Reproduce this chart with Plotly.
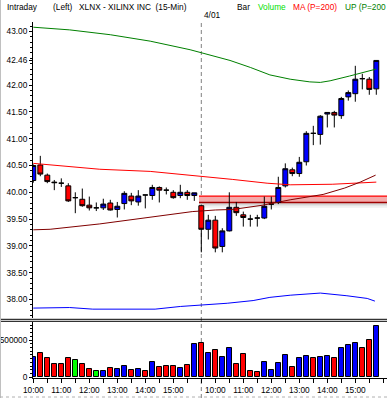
import plotly.graph_objects as go

# ---------------- data ----------------
TIMES = ["10:00", "10:15", "10:30", "10:45", "11:00", "11:15", "11:30", "11:45",
         "12:00", "12:15", "12:30", "12:45", "13:00", "13:15", "13:30", "13:45",
         "14:00", "14:15", "14:30", "14:45", "15:00", "15:15", "15:30", "15:45",
         "09:30", "09:45", "10:00", "10:15", "10:30", "10:45", "11:00", "11:15",
         "11:30", "11:45", "12:00", "12:15", "12:30", "12:45", "13:00", "13:15",
         "13:30", "13:45", "14:00", "14:15", "14:30", "14:45", "15:00", "15:15",
         "15:30", "15:45"]
SESSION_START = 24          # first bar of 4/01
SESSION_LABEL = "4/01"

OPEN = [40.22, 40.51, 40.32, 40.19, 40.17, 40.12, 39.90, 39.87, 39.76, 39.71,
        39.71, 39.80, 39.68, 39.79, 39.93, 39.82, 39.95, 39.94, 40.09, 40.04,
        40.00, 39.94, 40.00, 39.94, 39.75, 39.31, 39.48, 38.99, 39.28, 39.72,
        39.58, 39.50, 39.52, 39.52, 39.78, 39.81, 40.12, 40.42, 40.35, 40.57,
        41.10, 41.08, 41.46, 41.49, 41.43, 41.78, 41.84, 42.12, 42.11, 41.93]
HIGH = [40.52, 40.68, 40.35, 40.23, 40.26, 40.17, 40.00, 40.07, 39.92, 39.81,
        39.88, 39.86, 39.82, 40.02, 39.99, 40.04, 39.95, 40.14, 40.11, 40.09,
        40.04, 40.14, 40.04, 39.99, 39.77, 39.58, 39.56, 39.33, 40.00, 39.82,
        39.64, 39.58, 39.58, 39.92, 39.92, 40.29, 40.54, 40.46, 40.66, 41.14,
        41.24, 41.44, 41.49, 41.52, 41.78, 41.90, 42.36, 42.21, 42.15, 42.46]
LOW = [40.18, 40.30, 40.17, 40.04, 40.10, 39.82, 39.61, 39.73, 39.66, 39.65,
       39.67, 39.66, 39.53, 39.68, 39.76, 39.75, 39.70, 39.86, 39.81, 39.96,
       39.88, 39.89, 39.86, 39.84, 38.88, 39.12, 38.88, 38.88, 39.27, 39.56,
       39.36, 39.36, 39.36, 39.50, 39.68, 39.78, 40.09, 40.30, 40.29, 40.50,
       40.88, 40.89, 41.21, 41.21, 41.37, 41.71, 41.69, 41.92, 41.82, 41.82]
CLOSE = [40.50, 40.34, 40.20, 40.18, 40.17, 39.84, 39.90, 39.75, 39.71, 39.71,
         39.78, 39.67, 39.74, 39.98, 39.84, 39.93, 39.95, 40.09, 40.04, 40.04,
         39.90, 40.00, 39.94, 39.99, 39.31, 39.48, 38.96, 39.28, 39.72, 39.62,
         39.53, 39.50, 39.52, 39.74, 39.78, 40.09, 40.44, 40.35, 40.56, 41.10,
         41.10, 41.42, 41.49, 41.44, 41.75, 41.86, 42.11, 42.12, 41.92, 42.46]

VOLUME = [268000, 321000, 254000, 174000, 174000, 254000, 237000, 174000, 107000, 80000,
          80000, 120000, 107000, 147000, 94000, 107000, 80000, 201000, 134000, 147000,
          147000, 120000, 161000, 442000, 455000, 321000, 362000, 268000, 388000, 174000,
          308000, 80000, 67000, 201000, 94000, 187000, 295000, 134000, 254000, 281000,
          254000, 268000, 281000, 254000, 388000, 429000, 455000, 388000, 495000, 683000]
VOL_DIR = ["up", "dn", "dn", "dn", "dn", "dn", "flat", "dn", "dn", "flat",
           "up", "dn", "up", "up", "dn", "up", "dn", "up", "dn", "dn",
           "dn", "up", "dn", "up", "dn", "up", "dn", "up", "up", "dn",
           "dn", "dn", "dn", "up", "up", "up", "up", "dn", "up", "up",
           "dn", "up", "up", "dn", "up", "up", "up", "dn", "dn", "up"]

# overlay lines, sampled at bar positions
UP_X = [0, 5.2, 11.0, 16.7, 22.4, 25.2, 28.1, 31.0, 33.8, 36.7, 39.5, 41.0, 42.4, 45.2, 48.1, 49.0]
UP_Y = [43.08, 43.03, 42.94, 42.82, 42.66, 42.56, 42.46, 42.33, 42.19, 42.11, 42.06, 42.05, 42.08, 42.17, 42.27, 42.30]
MA_X = [0, 9.5, 16.7, 22.7, 28.5, 33.4, 36.7, 42.7, 49.0]
MA_Y = [40.54, 40.43, 40.39, 40.32, 40.24, 40.17, 40.14, 40.15, 40.19]
LO_X = [0, 2.4, 9.5, 13.1, 16.7, 22.7, 26.0, 28.5, 32.8, 36.7, 41.4, 44.5, 46.7, 48.9]
LO_Y = [39.30, 39.31, 39.41, 39.47, 39.53, 39.64, 39.67, 39.68, 39.76, 39.86, 39.96, 40.08, 40.19, 40.32]
BL_X = [0, 5.2, 8.5, 17.4, 21.0, 23.8, 27.7, 31.4, 33.8, 36.7, 41.0, 44.8, 47.7, 48.8]
BL_Y = [37.84, 37.85, 37.82, 37.82, 37.87, 37.89, 37.93, 37.98, 38.04, 38.08, 38.12, 38.07, 38.02, 37.97]

BAND_TOP = 39.93
BAND_BOTTOM = 39.81

PRICE_TICKS = [38.0, 38.5, 39.0, 39.5, 40.0, 40.5, 41.0, 41.5, 42.0, 42.46, 43.0]
PRICE_TICK_TEXT = ["38.00", "38.50", "39.00", "39.50", "40.00", "40.50", "41.00",
                   "41.50", "42.00", "42.46", "43.00"]
VOL_TICKS = [0, 500000]
VOL_TICK_TEXT = ["0", "500000"]

# ---------------- geometry helpers ----------------
W, H = 387, 398
FONT = "Liberation Sans"
FS = 8.3


def fx(px):
    return px / W


def fy(py):
    return 1 - py / H


AXIS_PX = 33.0
FIRST_BAR_PX = 33.3
BAR_PX = 7.0
XR = [(AXIS_PX - FIRST_BAR_PX) / BAR_PX, (W - FIRST_BAR_PX) / BAR_PX]

REF_P, REF_PX, PX_PER = 40.5, 165.5, 53.6


def price_at(py):
    return REF_P - (py - REF_PX) / PX_PER


MAIN_TOP, MAIN_BOT = 22, 318
YR = [price_at(MAIN_BOT), price_at(MAIN_TOP)]

VOL_TOP, VOL_BOT = 322, 378
VZERO_PX, V500_PX = 377.3, 340.0
K = 500000 / (VZERO_PX - V500_PX)
VR = [-(VOL_BOT - VZERO_PX) * K, (VZERO_PX - VOL_TOP) * K]

idx = list(range(len(TIMES)))
dir_color = {"up": "#0000ff", "dn": "#ff0000", "flat": "#00ff00"}

fig = go.Figure()

fig.add_trace(go.Candlestick(
    x=idx, open=OPEN, high=HIGH, low=LOW, close=CLOSE,
    xaxis="x", yaxis="y",
    increasing=dict(line=dict(color="black", width=1), fillcolor="#0000ff"),
    decreasing=dict(line=dict(color="black", width=1), fillcolor="#ff0000"),
    whiskerwidth=0, hoverinfo="skip", showlegend=False))

for xs, ys, col in [(UP_X, UP_Y, "#008000"), (MA_X, MA_Y, "#ff0000"),
                    (LO_X, LO_Y, "#800000"), (BL_X, BL_Y, "#0000ff")]:
    fig.add_trace(go.Scatter(x=xs, y=ys, mode="lines", xaxis="x", yaxis="y",
                             line=dict(color=col, width=1), hoverinfo="skip",
                             showlegend=False))

fig.add_trace(go.Bar(
    x=idx, y=VOLUME, xaxis="x2", yaxis="y2", width=0.68,
    marker=dict(color=[dir_color[d] for d in VOL_DIR],
                line=dict(color="black", width=1)),
    hoverinfo="skip", showlegend=False))

label_pos = [i for i, t in enumerate(TIMES) if t.endswith(":00") and i != SESSION_START]
label_txt = [TIMES[i] for i in label_pos]

axis_common = dict(showgrid=False, zeroline=False, automargin=False,
                   linecolor="black", linewidth=1, tickcolor="black",
                   tickfont=dict(family=FONT, size=FS, color="black"))

fig.update_layout(
    width=W, height=H, template="none",
    margin=dict(l=0, r=0, t=0, b=0, pad=0),
    paper_bgcolor="white", plot_bgcolor="rgba(0,0,0,0)",
    font=dict(family=FONT, size=FS, color="black"),
    showlegend=False, bargap=0, boxgap=0.3, boxgroupgap=0,
    xaxis=dict(domain=[fx(AXIS_PX), 1], range=XR, anchor="y", showticklabels=False,
               ticks="", showline=False, rangeslider=dict(visible=False), **axis_common),
    yaxis=dict(domain=[fy(MAIN_BOT), fy(MAIN_TOP)], range=YR, anchor="x",
               tickmode="array", tickvals=PRICE_TICKS, ticktext=PRICE_TICK_TEXT,
               ticks="outside", ticklen=3, showline=True,
               minor=dict(ticks="outside", ticklen=2, tickmode="linear", tick0=38, dtick=0.1,
                          tickcolor="black"),
               **axis_common),
    xaxis2=dict(domain=[fx(AXIS_PX), 1], range=XR, anchor="y2",
                tickmode="array", tickvals=label_pos, ticktext=label_txt,
                ticks="outside", ticklen=4, showline=True,
                minor=dict(ticks="outside", ticklen=4, tickmode="linear", tick0=0, dtick=2,
                           tickcolor="black"),
                rangeslider=dict(visible=False), **axis_common),
    yaxis2=dict(domain=[fy(VOL_BOT), fy(VOL_TOP)], range=VR, anchor="x2",
                tickmode="array", tickvals=VOL_TICKS, ticktext=VOL_TICK_TEXT,
                ticks="outside", ticklen=3, showline=True,
                minor=dict(ticks="outside", ticklen=2, tickmode="linear", tick0=0, dtick=50000,
                           tickcolor="black"),
                **axis_common),
)

shapes = []
# support band with shadow
band_x0 = (199 - FIRST_BAR_PX) / BAR_PX
band_x1 = XR[1] + 1
px_band_bot = REF_PX - (BAND_BOTTOM - REF_P) * PX_PER
for k, col in enumerate(["#c4c4c4", "#d6d6d6", "#e4e4e4", "#f0f0f0"]):
    shapes.append(dict(type="rect", xref="x", yref="y", layer="below",
                       x0=band_x0, x1=band_x1,
                       y0=price_at(px_band_bot + 1.3 * k), y1=price_at(px_band_bot + 1.3 * (k + 1)),
                       fillcolor=col, line=dict(width=0)))
shapes.append(dict(type="rect", xref="x", yref="y", layer="below",
                   x0=band_x0, x1=band_x1, y0=BAND_BOTTOM, y1=BAND_TOP,
                   fillcolor="#f4aaaa", line=dict(width=0)))
shapes.append(dict(type="line", xref="x", yref="y", layer="below",
                   x0=band_x0, x1=band_x1, y0=BAND_TOP, y1=BAND_TOP,
                   line=dict(color="#ff0000", width=1.3)))
shapes.append(dict(type="line", xref="x", yref="y", layer="below",
                   x0=band_x0, x1=band_x1, y0=BAND_BOTTOM, y1=BAND_BOTTOM,
                   line=dict(color="#a00000", width=1.3)))
# session separator
shapes.append(dict(type="line", xref="x", yref="paper", layer="below",
                   x0=SESSION_START, x1=SESSION_START, y0=0, y1=fy(20),
                   line=dict(color="#808080", width=1, dash="4px,3px")))
# double separator between panels
for py in (319.3, 321.3):
    shapes.append(dict(type="line", xref="paper", yref="paper",
                       x0=0, x1=1, y0=fy(py), y1=fy(py),
                       line=dict(color="black", width=1)))
# outer border (left / bottom)
shapes.append(dict(type="line", xref="paper", yref="paper", x0=fx(0.5), x1=fx(0.5),
                   y0=0, y1=1, line=dict(color="#c0c0c0", width=1)))
shapes.append(dict(type="line", xref="paper", yref="paper", x0=0, x1=1,
                   y0=fy(397), y1=fy(397), line=dict(color="#b0b0b0", width=1, dash="dot")))
fig.update_layout(shapes=shapes)

header = [("Intraday", 6, "black"), ("(Left)", 52, "black"),
          ("XLNX - XILINX INC  (15-Min)", 78, "black"), ("Bar", 236, "black"),
          ("Volume", 257, "#00e000"), ("MA (P=200)", 292, "#ff0000"),
          ("UP (P=200", 344, "#008000")]
annotations = []
for txt, px, col in header:
    annotations.append(dict(text=txt, xref="paper", yref="paper", x=fx(px), y=fy(7),
                            xanchor="left", yanchor="middle", showarrow=False, borderpad=0,
                            font=dict(family=FONT, size=FS, color=col)))
annotations.append(dict(text=SESSION_LABEL, xref="paper", yref="paper", x=fx(203), y=fy(15.5),
                        xanchor="left", yanchor="middle", showarrow=False, borderpad=0,
                        font=dict(family=FONT, size=FS, color="black")))
fig.update_layout(annotations=annotations)

fig.write_html("out.html", config={"displayModeBar": False},
               post_script="document.body.style.margin='0';document.body.style.overflow='hidden';")
